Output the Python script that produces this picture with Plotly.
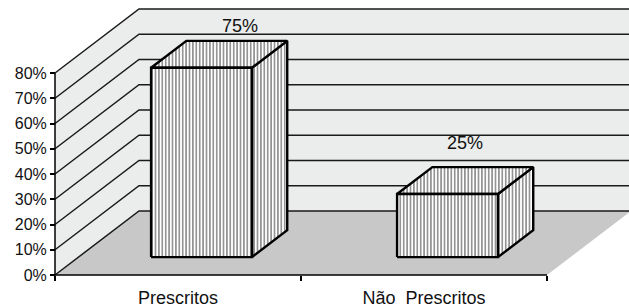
import plotly.graph_objects as go

# ---- data ----
categories = ["Prescritos", "Não\u00a0 Prescritos"]
values = [75, 25]
value_labels = ["75%", "25%"]
y_ticks = [0, 10, 20, 30, 40, 50, 60, 70, 80]
y_max = 80

# ---- 3D look (styles / geometry constants) ----
DX = 84 / 246      # depth offset in x (category units)
DY = 64 / 2.525    # depth offset in y (percent units)
HALF_W = 0.205     # half bar width
D_FRONT, D_BACK = 0.28, 0.70
WALL = "#ebecec"
FLOOR = "#c8c8c8"
GRID = "#1a1a1a"
FONT = "Liberation Sans, Arial, sans-serif"
label_shift = [(21, 3), (0, 12)]

n = len(categories)


def proj(x, y, d):
    return x + d * DX, y + d * DY


def poly(pts):
    xs = [p[0] for p in pts] + [pts[0][0]]
    ys = [p[1] for p in pts] + [pts[0][1]]
    return xs, ys


fig = go.Figure()

# walls and floor
for pts, col in [
    ([proj(0, 0, 0), proj(0, 0, 1), proj(0, y_max, 1), proj(0, y_max, 0)], WALL),
    ([proj(0, 0, 1), proj(n, 0, 1), proj(n, y_max, 1), proj(0, y_max, 1)], WALL),
    ([proj(0, 0, 0), proj(n, 0, 0), proj(n, 0, 1), proj(0, 0, 1)], FLOOR),
]:
    xs, ys = poly(pts)
    fig.add_trace(go.Scatter(x=xs, y=ys, mode="lines", fill="toself", fillcolor=col,
                             line=dict(width=0, color=col), hoverinfo="skip"))

# gridlines (left wall diagonals + back wall horizontals)
gx, gy = [], []
for v in y_ticks:
    a = proj(0, v, 0); b = proj(0, v, 1); c = proj(n, v, 1)
    gx += [a[0], b[0], c[0], None]
    gy += [a[1], b[1], c[1], None]
fig.add_trace(go.Scatter(x=gx, y=gy, mode="lines", line=dict(color=GRID, width=1.5),
                         hoverinfo="skip"))

# front axes lines
fig.add_trace(go.Scatter(x=[0, 0, None, 0, n], y=[y_max, 0, None, 0, 0], mode="lines",
                         line=dict(color="#000", width=1.5), hoverinfo="skip"))

# bars
for i, v in enumerate(values):
    u = i + 0.5
    l, r = u - HALF_W, u + HALF_W
    faces = [
        [proj(r, 0, D_FRONT), proj(r, 0, D_BACK), proj(r, v, D_BACK), proj(r, v, D_FRONT)],
        [proj(l, v, D_FRONT), proj(r, v, D_FRONT), proj(r, v, D_BACK), proj(l, v, D_BACK)],
        [proj(l, 0, D_FRONT), proj(r, 0, D_FRONT), proj(r, v, D_FRONT), proj(l, v, D_FRONT)],
    ]
    for pts in faces:
        xs, ys = poly(pts)
        fig.add_trace(go.Scatter(
            x=xs, y=ys, mode="lines", fill="toself", fillcolor="white",
            fillpattern=dict(shape="|", size=3.4, solidity=0.5, fgcolor="#2a2a2a",
                             bgcolor="white"),
            line=dict(color="#000", width=2.4), hoverinfo="skip"))
    cx, cy = proj(u, v, (D_FRONT + D_BACK) / 2)
    _, by = proj(u, v, D_BACK)
    fig.add_annotation(x=cx, y=by, text=value_labels[i], showarrow=False,
                       yanchor="bottom", xshift=label_shift[i][0], yshift=label_shift[i][1],
                       font=dict(size=18, color="#111", family=FONT))

W, H = 629, 307
ML, MB, MT, MR = 45, 28, 0, 0
PX_X = 246.0
PX_Y = 2.525
pw, ph = W - ML - MR, H - MB - MT
x0 = -10 / PX_X
y0 = -4 / PX_Y

fig.update_layout(
    width=W, height=H, margin=dict(l=ML, r=MR, t=MT, b=MB, autoexpand=False),
    paper_bgcolor="white", plot_bgcolor="white", showlegend=False,
    font=dict(family=FONT, size=16, color="#111"),
    xaxis=dict(range=[x0, x0 + pw / PX_X], showgrid=False, zeroline=False, showline=False,
               tickvals=[i + 0.5 for i in range(n)], ticktext=categories, ticks="",
               minor=dict(tickvals=list(range(n + 1)), ticks="outside", ticklen=5,
                          tickcolor="#000", tickwidth=1.5, showgrid=False),
               anchor="free", position=4 / ph, fixedrange=True, ticklabelstandoff=10,
               tickfont=dict(size=18, color="#111")),
    yaxis=dict(range=[y0, y0 + ph / PX_Y], showgrid=False, zeroline=False, showline=False,
               tickvals=y_ticks, ticktext=[f"{t}%" for t in y_ticks], ticks="outside",
               ticklen=5, tickcolor="#000", tickwidth=1.5,
               anchor="free", position=10 / pw, fixedrange=True,
               tickfont=dict(size=16, color="#111")),
)

fig.write_html("out.html", config={"displayModeBar": False},
               post_script="document.body.style.margin='0';")
